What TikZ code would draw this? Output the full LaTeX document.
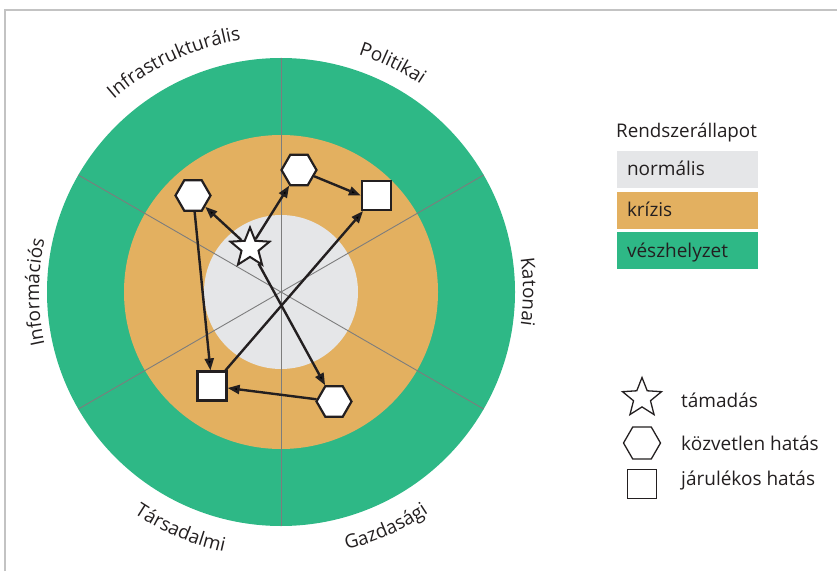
\documentclass[tikz,border=0pt]{standalone}
\usepackage{fontspec}
\setmainfont{Open Sans}
\usetikzlibrary{shapes.geometric,arrows.meta,decorations.text,calc}
\definecolor{cgreen}{RGB}{46,184,134}
\definecolor{corange}{RGB}{227,176,96}
\definecolor{cgray}{RGB}{229,230,232}
\definecolor{ink}{RGB}{35,31,32}
\definecolor{secline}{RGB}{125,125,125}
\definecolor{framec}{RGB}{195,195,195}
\newcommand{\labfont}{\fontsize{19}{21}\selectfont}
\begin{document}
\begin{tikzpicture}[x=1pt,y=1pt,
  hexa/.style={regular polygon, regular polygon sides=6, minimum size=35pt, inner sep=0pt, draw=ink, fill=white, line width=2.2pt},
  sqr/.style={rectangle, minimum size=29pt, inner sep=0pt, draw=ink, fill=white, line width=2.2pt},
  strr/.style={star, star points=5, star point ratio=2.3, minimum size=41pt, inner sep=0pt, draw=ink, fill=white, line width=2pt},
  lhexa/.style={hexa, minimum size=37pt, line width=1.3pt},
  lsqr/.style={sqr, minimum size=29pt, line width=1.3pt},
  lstrr/.style={strr, minimum size=41pt, line width=1.3pt},
  conn/.style={draw=ink, line width=2.4pt, -{Triangle[length=12pt,width=9pt]}},
  sector/.style={draw=secline, line width=0.9pt},
  legbox/.style={rectangle, minimum width=141pt, minimum height=37pt, inner xsep=10pt, inner ysep=0pt, text width=121pt, align=left, text height=14pt, text depth=1pt, font=\fontsize{19}{21}\selectfont, text=ink},
  legtxt/.style={anchor=base west, inner sep=0pt, font=\fontsize{19}{21}\selectfont, text=ink},
  arclab/.style={decorate, decoration={text along path, text align=center, text color=ink, text={|\labfont|#1}}}
]
\useasboundingbox (0,0) rectangle (837,571);
% frame
\draw[framec, line width=1.2pt] (5,0) -- (5,561) -- (837,561);
% rings
\coordinate (C) at (281,279);
\fill[cgreen] (C) circle (234);
\fill[corange] (C) circle (157);
\fill[cgray] (C) circle (77);
% sector lines
\foreach \a in {90,30,150}{
  \draw[sector] ($(C)+(\a:234)$) -- ($(C)+(\a+180:234)$);
}
% labels on arcs
\path[arclab={Infrastrukturális}] (C) ++(150:255) arc[start angle=150, end angle=80, radius=255];
\path[arclab={Politikai}] (C) ++(99:250) arc[start angle=99, end angle=29, radius=250];
\path[arclab={Katonai}] (C) ++(35:242) arc[start angle=35, end angle=-35, radius=242];
\path[arclab={Információs}] (C) ++(215:242) arc[start angle=215, end angle=145, radius=242];
\path[arclab={Társadalmi}] (C) ++(-149:266) arc[start angle=-149, end angle=-77, radius=266];
\path[arclab={Gazdasági}] (C) ++(-101:266) arc[start angle=-101, end angle=-31, radius=266];
% diagram nodes
\node[strr] (S) at (250,323) {};
\node[hexa] (H1) at (193,375.5) {};
\node[hexa] (H2) at (299,401) {};
\node[sqr] (Q1) at (376.5,375.5) {};
\node[sqr] (Q2) at (212,185) {};
\node[hexa] (H3) at (334,169.5) {};
% connectors
\draw[conn] (S) -- (H1);
\draw[conn] (S) -- (H2);
\draw[conn] (H2) -- (Q1.west);
\draw[conn] (H1) -- (Q2);
\draw[conn] (Q2) -- (Q1);
\draw[conn] (S) -- (H3);
\draw[conn] (H3) -- (Q2);
% legend: states
\node[legtxt, font=\fontsize{18.8}{21}\selectfont] (title) at (616,433) {Rendszerállapot};
\node[legbox, fill=cgray] (ln) at (687.5,401.5) {normális};
\node[legbox, fill=corange] (lk) at (687.5,360.5) {krízis};
\node[legbox, fill=cgreen] (lv) at (687.5,320.5) {vészhelyzet};
% legend: symbols
\node[lstrr] (ls) at (642,173) {};
\node[lhexa] (lh) at (642,128) {};
\node[lsqr] (lq) at (642,87) {};
\node[legtxt] (lst) at (681,164) {támadás};
\node[legtxt] (lht) at (681,121) {közvetlen hatás};
\node[legtxt] (lqt) at (681,86) {járulékos hatás};
\end{tikzpicture}
\end{document}
